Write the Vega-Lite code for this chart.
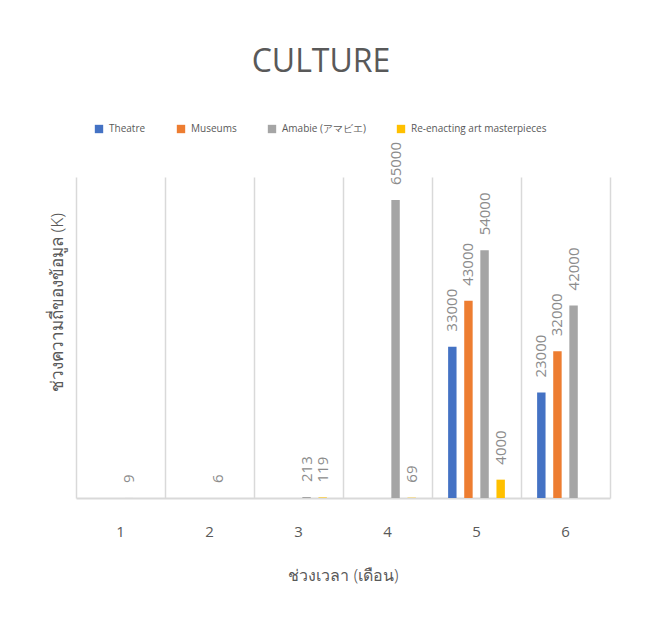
{
  "$schema": "https://vega.github.io/schema/vega-lite/v6.json",
  "width": 534,
  "height": 321,
  "autosize": "none",
  "padding": {"left": 76, "top": 177, "right": 47, "bottom": 124},
  "background": "white",
  "title": {
    "text": "CULTURE",
    "fontSize": 32,
    "font": "Open Sans",
    "fontWeight": "normal",
    "color": "#595959",
    "anchor": "middle",
    "frame": "group",
    "orient": "top",
    "dx": -22,
    "offset": 45
  },
  "data": {
    "values": [
      {"month": "1", "series": "Amabie (アマビエ)", "value": 9},
      {"month": "2", "series": "Amabie (アマビエ)", "value": 6},
      {"month": "3", "series": "Amabie (アマビエ)", "value": 213},
      {"month": "3", "series": "Re-enacting art masterpieces", "value": 119},
      {"month": "4", "series": "Amabie (アマビエ)", "value": 65000},
      {"month": "4", "series": "Re-enacting art masterpieces", "value": 69},
      {"month": "5", "series": "Theatre", "value": 33000},
      {"month": "5", "series": "Museums", "value": 43000},
      {"month": "5", "series": "Amabie (アマビエ)", "value": 54000},
      {"month": "5", "series": "Re-enacting art masterpieces", "value": 4000},
      {"month": "6", "series": "Theatre", "value": 23000},
      {"month": "6", "series": "Museums", "value": 32000},
      {"month": "6", "series": "Amabie (アマビエ)", "value": 42000}
    ]
  },
  "encoding": {
    "x": {
      "field": "month",
      "type": "ordinal",
      "scale": {"paddingInner": 0, "paddingOuter": 0},
      "axis": {
        "title": "ช่วงเวลา (เดือน)",
        "labelAngle": 0,
        "labelFontSize": 15,
        "labelColor": "#595959",
        "labelFont": "Open Sans",
        "labelPadding": 26,
        "ticks": false,
        "domainColor": "#d9d9d9",
        "domainWidth": 2,
        "grid": true,
        "gridColor": "#d9d9d9",
        "gridWidth": 1.5,
        "bandPosition": 0,
        "titleFontSize": 16,
        "titleFont": "Noto Sans",
        "titleFontWeight": 300,
        "titleColor": "#595959",
        "titlePadding": 28
      }
    },
    "xOffset": {
      "field": "series",
      "type": "nominal",
      "scale": {
        "domain": ["Theatre", "Museums", "Amabie (アマビエ)", "Re-enacting art masterpieces"],
        "paddingInner": 0.477,
        "paddingOuter": 1.15
      }
    },
    "y": {
      "field": "value",
      "type": "quantitative",
      "scale": {"domain": [0, 70000], "nice": false}
    }
  },
  "layer": [
    {
      "mark": {"type": "bar"},
      "encoding": {
        "y": {
          "field": "value",
          "type": "quantitative",
          "scale": {"domain": [0, 70000], "nice": false},
          "axis": {
            "title": "ช่วงความถี่ของข้อมูล (K)",
            "labels": false,
            "ticks": false,
            "domain": false,
            "grid": false,
            "titleFontSize": 17,
            "titleFont": "Noto Sans",
            "titleFontWeight": 300,
            "titleColor": "#595959",
            "titleX": -19,
            "titleY": 125,
            "titleAngle": 270,
            "titleAlign": "center",
            "titleBaseline": "middle"
          }
        },
        "color": {
          "field": "series",
          "type": "nominal",
          "scale": {
            "domain": ["Theatre", "Museums", "Amabie (アマビエ)", "Re-enacting art masterpieces"],
            "range": ["#4472C4", "#ED7D31", "#A5A5A5", "#FFC000"]
          },
          "legend": {
            "title": null,
            "orient": "none",
            "direction": "horizontal",
            "legendX": 18,
            "legendY": -53,
            "symbolType": "square",
            "symbolSize": 70,
            "symbolStrokeWidth": 0,
            "labelFontSize": 10,
            "labelFont": "Open Sans",
            "labelColor": "#595959",
            "labelOffset": 5,
            "columnPadding": 30
          }
        }
      }
    },
    {
      "mark": {
        "type": "text",
        "angle": 270,
        "align": "left",
        "baseline": "middle",
        "dx": 15,
        "fontSize": 15,
        "font": "Open Sans",
        "color": "#8c8c8c"
      },
      "encoding": {
        "y": {
          "field": "value",
          "type": "quantitative",
          "scale": {"domain": [0, 70000], "nice": false},
          "axis": {
            "orient": "right",
            "title": null,
            "labels": false,
            "ticks": false,
            "grid": false,
            "domain": true,
            "domainColor": "#d9d9d9",
            "domainWidth": 1.5
          }
        },
        "text": {"field": "value", "type": "quantitative", "format": "d"}
      }
    }
  ],
  "resolve": {"axis": {"y": "independent"}},
  "config": {"view": {"stroke": null}}
}
